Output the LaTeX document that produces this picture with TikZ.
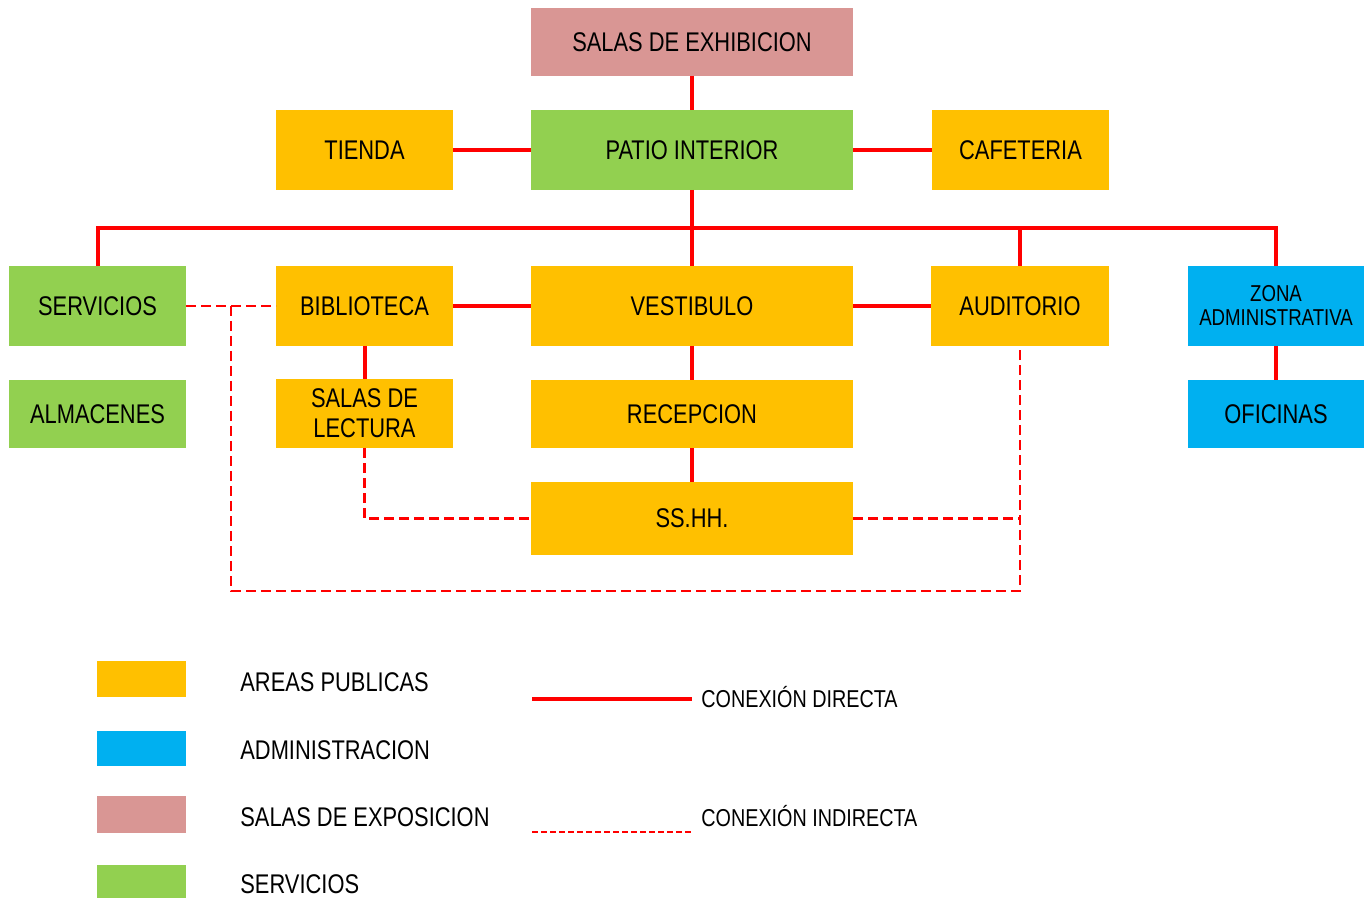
\documentclass[tikz,border=0pt]{standalone}
\usepackage{fontspec}
\setmainfont{Liberation Sans}[FakeStretch=0.81]
\definecolor{pub}{HTML}{FFC000}
\definecolor{srv}{HTML}{92D050}
\definecolor{adm}{HTML}{00B0F0}
\definecolor{exh}{HTML}{D99694}
\definecolor{lnk}{HTML}{FF0000}
\tikzset{
  box/.style={inner sep=0pt, outer sep=0pt, align=center, text=black,
    font=\fontsize{13.5}{15}\selectfont},
  small/.style={font=\fontsize{11.5}{12}\selectfont},
  direct/.style={draw=lnk, line width=2pt},
  indirect/.style={draw=lnk, line width=1.3pt, dash pattern=on 5pt off 2.5pt},
  legtext/.style={anchor=west, inner sep=0pt, font=\fontsize{13.5}{15}\selectfont},
  legsmall/.style={anchor=west, inner sep=0pt, font=\fontsize{12.2}{13}\selectfont},
}
\begin{document}
\begin{tikzpicture}[x=0.5pt,y=-0.5pt]
\useasboundingbox (0,0) rectangle (1370,898);
% boxes
\node[box, fill=exh, minimum width=161pt, minimum height=34pt] (sala) at (692,42) {SALAS DE EXHIBICION};
\node[box, fill=srv, minimum width=161pt, minimum height=40pt] (patio) at (692,150) {PATIO INTERIOR};
\node[box, fill=pub, minimum width=88.5pt, minimum height=40pt] (tienda) at (364.5,150) {TIENDA};
\node[box, fill=pub, minimum width=88.5pt, minimum height=40pt] (cafe) at (1020.5,150) {CAFETERIA};
\node[box, fill=srv, minimum width=88.5pt, minimum height=40pt] (serv) at (97.5,306) {SERVICIOS};
\node[box, fill=pub, minimum width=88.5pt, minimum height=40pt] (bib) at (364.5,306) {BIBLIOTECA};
\node[box, fill=pub, minimum width=161pt, minimum height=40pt] (vest) at (692,306) {VESTIBULO};
\node[box, fill=pub, minimum width=89pt, minimum height=40pt] (aud) at (1020,306) {AUDITORIO};
\node[box, small, fill=adm, minimum width=88pt, minimum height=40pt] (zona) at (1276,306) {ZONA\\ADMINISTRATIVA};
\node[box, fill=srv, minimum width=88.5pt, minimum height=34pt] (alm) at (97.5,414) {ALMACENES};
\node[box, fill=pub, minimum width=88.5pt, minimum height=34.5pt] (lect) at (364.5,413.5) {SALAS DE\\LECTURA};
\node[box, fill=pub, minimum width=161pt, minimum height=34pt] (rec) at (692,414) {RECEPCION};
\node[box, fill=adm, minimum width=88pt, minimum height=34pt] (ofi) at (1276,414) {OFICINAS};
\node[box, fill=pub, minimum width=161pt, minimum height=36.5pt] (sshh) at (692,518.5) {SS.HH.};
% direct connections
\coordinate (bus) at (692,228);
\draw[direct] (sala) -- (patio);
\draw[direct] (tienda) -- (patio);
\draw[direct] (patio) -- (cafe);
\draw[direct] (patio.south) -- (bus);
\draw[direct] (serv.north) -- (serv.north |- bus) -- (zona.north |- bus) -- (zona.north);
\draw[direct] (bus) -- (vest.north);
\draw[direct] (aud.north |- bus) -- (aud.north);
\draw[direct] (bib) -- (vest);
\draw[direct] (vest) -- (aud);
\draw[direct] (bib) -- (lect);
\draw[direct] (vest) -- (rec);
\draw[direct] (rec) -- (sshh);
\draw[direct] (zona) -- (ofi);
% indirect connections
\coordinate (j1) at (231,306);
\coordinate (j2) at (231,591);
\draw[indirect] (serv) -- (bib);
\draw[indirect] (j1) -- (j2) -- (aud.south |- j2) -- (aud.south);
\draw[indirect] (lect.south) |- (sshh.west);
\draw[indirect] (sshh.east) -- (aud.south |- sshh.east);
% legend
\node[inner sep=0pt, fill=pub, minimum width=44.5pt, minimum height=18pt] (lg1) at (141.5,679) {};
\node[inner sep=0pt, fill=adm, minimum width=44.5pt, minimum height=17.5pt] (lg2) at (141.5,748.5) {};
\node[inner sep=0pt, fill=exh, minimum width=44.5pt, minimum height=18.5pt] (lg3) at (141.5,814.5) {};
\node[inner sep=0pt, fill=srv, minimum width=44.5pt, minimum height=16.5pt] (lg4) at (141.5,881.5) {};
\node[legtext] (t1) at (240,682) {AREAS PUBLICAS};
\node[legtext] (t2) at (240,750) {ADMINISTRACION};
\node[legtext] (t3) at (240,817) {SALAS DE EXPOSICION};
\node[legtext] (t4) at (240,884) {SERVICIOS};
\coordinate (d1) at (532,699);
\coordinate (d2) at (692,699);
\coordinate (i1) at (532,832);
\coordinate (i2) at (692,832);
\draw[direct] (d1) -- (d2);
\draw[indirect, dash pattern=on 3pt off 1.5pt] (i1) -- (i2);
\node[legsmall] (t5) at (701,697) {CONEXIÓN DIRECTA};
\node[legsmall] (t6) at (701,816) {CONEXIÓN INDIRECTA};
\end{tikzpicture}
\end{document}
